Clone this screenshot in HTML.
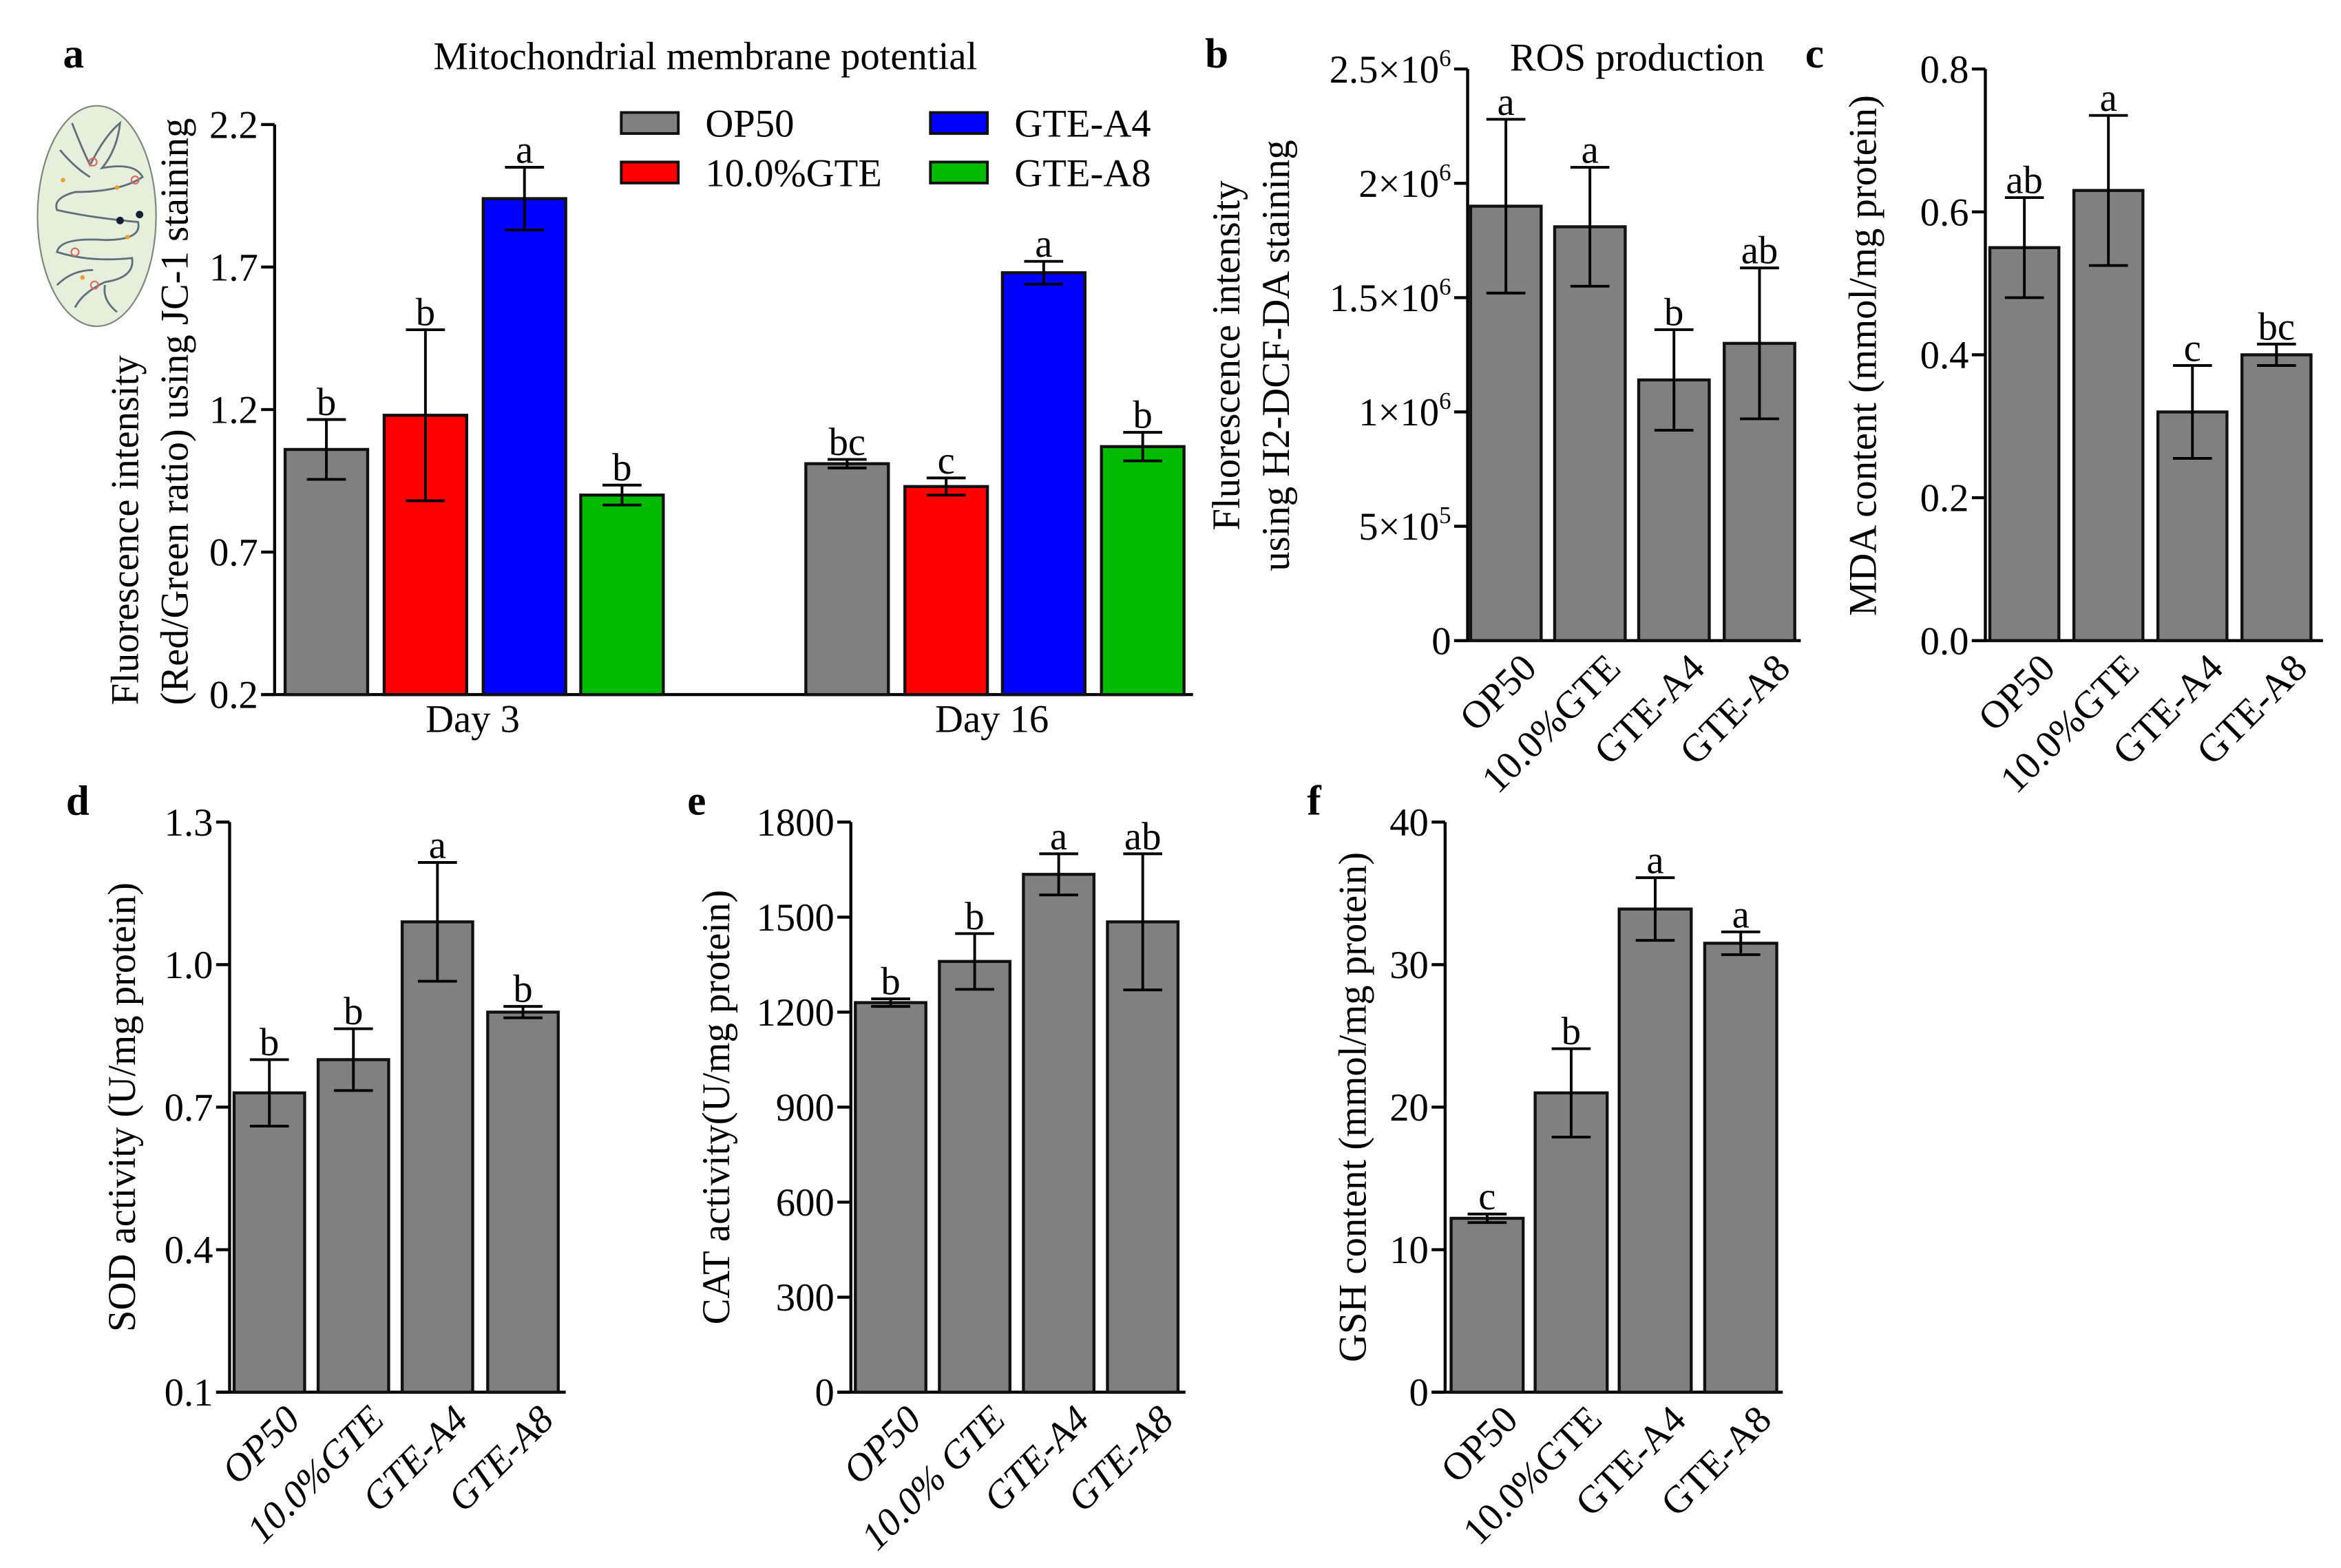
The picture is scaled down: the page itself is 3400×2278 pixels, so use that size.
<!DOCTYPE html>
<html><head><meta charset="utf-8">
<style>
html,body{margin:0;padding:0;background:#fff;}
svg{display:block;font-family:"Liberation Serif","DejaVu Serif",serif;}
</style></head>
<body>
<svg id="fig" width="3400" height="2278" viewBox="0 0 1560 1045.2" preserveAspectRatio="none" xmlns="http://www.w3.org/2000/svg">
<g id="charts"></g>
<g>
<ellipse cx="64.5" cy="144" rx="39.5" ry="73.5" fill="#e6eedc" stroke="#7a8a7a" stroke-width="1"/>
<path d="M48,82 Q55,100 60,110 Q70,90 80,82 Q78,100 68,112 Q90,108 95,118 Q80,128 50,128 Q35,132 38,140 Q60,145 92,148 Q95,160 70,160 Q40,158 38,168 Q60,175 88,172 Q90,185 70,188 Q55,195 50,205 M70,190 Q68,200 78,208" fill="none" stroke="#60707a" stroke-width="1.3"/>
<path d="M40,100 Q50,112 60,118 M38,190 Q48,180 62,180" fill="none" stroke="#60707a" stroke-width="1.3"/>
<circle cx="62" cy="108" r="2.5" fill="none" stroke="#d66"/><circle cx="90" cy="120" r="2.5" fill="none" stroke="#d66"/>
<circle cx="50" cy="168" r="2.5" fill="none" stroke="#d66"/><circle cx="63" cy="190" r="2.5" fill="none" stroke="#d66"/>
<circle cx="78" cy="125" r="1.5" fill="#e9a030"/><circle cx="42" cy="120" r="1.5" fill="#e9a030"/><circle cx="85" cy="158" r="1.5" fill="#e9a030"/><circle cx="55" cy="185" r="1.5" fill="#e9a030"/>
<circle cx="80" cy="147" r="2.5" fill="#123"/><circle cx="93" cy="143" r="2.5" fill="#123"/>
</g>
</svg>
<script>
// ---------- Panel a data ----------
const aCategories = ["Day 3", "Day 16"];
const aSeriesNames = ["OP50", "10.0%GTE", "GTE-A4", "GTE-A8"];
const aDay3Values = [1.06, 1.18, 1.94, 0.90];
const aDay3Err = [0.105, 0.30, 0.11, 0.035];
const aDay16Values = [1.01, 0.93, 1.68, 1.07];
const aDay16Err = [0.015, 0.03, 0.04, 0.05];
const aDay3Letters = ["b", "b", "a", "b"];
const aDay16Letters = ["bc", "c", "a", "b"];
const aTicks = [0.2, 0.7, 1.2, 1.7, 2.2];
// ---------- Panel b ----------
const groupCats = ["OP50", "10.0%GTE", "GTE-A4", "GTE-A8"];
const bValues = [1.90e6, 1.81e6, 1.14e6, 1.30e6];
const bErr = [0.38e6, 0.26e6, 0.22e6, 0.33e6];
const bLetters = ["a", "a", "b", "ab"];
const bTicks = [0, 5e5, 1e6, 1.5e6, 2e6, 2.5e6];
const bTickLabels = [["0",""], ["5×10","5"], ["1×10","6"], ["1.5×10","6"], ["2×10","6"], ["2.5×10","6"]];
// ---------- Panel c ----------
const cValues = [0.55, 0.63, 0.32, 0.40];
const cErr = [0.07, 0.105, 0.065, 0.015];
const cLetters = ["ab", "a", "c", "bc"];
const cTicks = [0.0, 0.2, 0.4, 0.6, 0.8];
const cTickLabels = ["0.0", "0.2", "0.4", "0.6", "0.8"];
// ---------- Panel d ----------
const dValues = [0.73, 0.80, 1.09, 0.90];
const dErr = [0.07, 0.065, 0.125, 0.012];
const dLetters = ["b", "b", "a", "b"];
const dTicks = [0.1, 0.4, 0.7, 1.0, 1.3];
const dTickLabels = ["0.1", "0.4", "0.7", "1.0", "1.3"];
// ---------- Panel e ----------
const eCats = ["OP50", "10.0% GTE", "GTE-A4", "GTE-A8"];
const eValues = [1230, 1360, 1635, 1485];
const eErr = [12, 88, 65, 215];
const eLetters = ["b", "b", "a", "ab"];
const eTicks = [0, 300, 600, 900, 1200, 1500, 1800];
// ---------- Panel f ----------
const fValues = [12.2, 21.0, 33.9, 31.5];
const fErr = [0.3, 3.1, 2.2, 0.8];
const fLetters = ["c", "b", "a", "a"];
const fTicks = [0, 10, 20, 30, 40];

const NS = "http://www.w3.org/2000/svg";
const root = document.getElementById("charts");
const FS = 26;
function mk(tag, attrs, parent, txt) {
  const e = document.createElementNS(NS, tag);
  for (const k in attrs) e.setAttribute(k, attrs[k]);
  if (txt !== undefined) e.textContent = txt;
  (parent || root).appendChild(e);
  return e;
}
function scale(d0, d1, r0, r1) { return v => r0 + (v - d0) * (r1 - r0) / (d1 - d0); }

function panel(o) {
  const g = mk("g", {});
  
  
  const y = scale(o.dmin, o.dmax, o.y0, o.y1);
  const yax = mk("line", {x1:o.ax, y1:o.y1, x2:o.ax, y2:o.y0, stroke:"#000", "stroke-width":2}, g);
  
  
  const xax = mk("line", {x1:o.ax - 9, y1:o.y0, x2:o.axEnd, y2:o.y0, stroke:"#000", "stroke-width":2}, g);
  
  
  o.ticks.forEach((t, i) => {
    const yy = y(t);
    mk("line", {x1:o.ax - 9, y1:yy, x2:o.ax, y2:yy, stroke:"#000", "stroke-width":2}, g);
    const lab = o.tickLabels ? o.tickLabels[i] : String(t);
    const tx = mk("text", {x:o.ax - 11, y:yy + 9, "text-anchor":"end", "font-size":FS}, g);
    
    
    if (Array.isArray(lab)) {
      tx.textContent = lab[0];
      if (lab[1]) mk("tspan", {dy:-11, "font-size":16}, tx, lab[1]);
    } else tx.textContent = lab;
  });
  o.bars.forEach((b, i) => {
    const top = y(b.v);
    const r = mk("rect", {x:b.x, y:top, width:b.w, height:o.y0 - top, fill:b.fill || "#808080", stroke:"#111", "stroke-width":2}, g);
    
    
    const cx = b.x + b.w / 2, hi = y(b.v + b.e), lo = y(b.v - b.e);
    const eb = mk("path", {d:`M${cx},${hi}V${lo}M${cx-13},${hi}H${cx+13}M${cx-13},${lo}H${cx+13}`, stroke:"#000", "stroke-width":1.8, fill:"none"}, g);
    
    
    const lt = mk("text", {x:cx, y:hi - 3, "text-anchor":"middle", "font-size":FS}, g, b.letter);
    
    
    if (o.rotLabels) {
      const lx = cx + 8, ly = o.y0 + 6;
      const xl = mk("text", {x:lx, y:ly, "text-anchor":"end", "font-size":FS, "font-style":o.italic ? "italic" : "normal", transform:`rotate(-45 ${lx} ${ly})`, dy:"0.75em"}, g, b.label);
      
      
    }
  });
  o.ytitle.forEach((t, i) => {
    const tx = o.ytx[i];
    const anchor = o.ytAnchor || "middle";
    const yt = mk("text", {x:tx, y:o.yty, "text-anchor":anchor, "font-size":FS, transform:`rotate(-90 ${tx} ${o.yty})`}, g, t);
    
    
  });
  return {g, y};
}

const aColors = ["#808080", "#ff0000", "#0000ff", "#00bb00"];
const aX3 = [190, 256, 322, 387], aX16 = [537, 603, 668, 734];
const aBars = [];
aDay3Values.forEach((v, i) => aBars.push({x:aX3[i], w:55, v, e:aDay3Err[i], letter:aDay3Letters[i], fill:aColors[i], label:"day3-" + aSeriesNames[i]}));
aDay16Values.forEach((v, i) => aBars.push({x:aX16[i], w:55, v, e:aDay16Err[i], letter:aDay16Letters[i], fill:aColors[i], label:"day16-" + aSeriesNames[i]}));
const pa = panel({name:"panel-a-chart", ax:183, axEnd:795, y0:463, y1:83, dmin:0.2, dmax:2.2, ticks:aTicks,
  tickLabels:aTicks.map(t => t.toFixed(1)), bars:aBars,
  ytitle:["Fluorescence intensity", "(Red/Green ratio) using JC-1 staining"], ytx:[92, 125], yty:470, ytAnchor:"start"});
[[315, aCategories[0]], [661, aCategories[1]]].forEach(([x, t]) => {
  const c = mk("text", {x, y:488, "text-anchor":"middle", "font-size":FS}, pa.g, t);
  
  
});
const legPos = [[414, 75], [414, 108], [620, 75], [620, 108]];
[0, 1, 2, 3].forEach(i => {
  const [lx, ly] = legPos[i];
  const lg = mk("g", {});
  
  
  mk("rect", {x:lx, y:ly, width:38, height:14, fill:aColors[i], stroke:"#111", "stroke-width":1.8}, lg);
  mk("text", {x:lx + 56, y:ly + 16, "font-size":FS}, lg, aSeriesNames[i]);
});

function simple(name, ax, axEnd, y0, y1, dmin, dmax, ticks, tickLabels, xs, w, vals, errs, letters, cats, ytitle, ytx, yty, italic) {
  return panel({name, ax, axEnd, y0, y1, dmin, dmax, ticks, tickLabels, rotLabels:true, italic,
    bars:vals.map((v, i) => ({x:xs[i], w, v, e:errs[i], letter:letters[i], label:cats[i]})),
    ytitle, ytx, yty});
}
simple("panel-b-chart", 978, 1200, 427, 46, 0, 2.5e6, bTicks, bTickLabels, [980, 1036, 1092, 1149], 47,
  bValues, bErr, bLetters, groupCats, ["Fluorescence intensity", "using H2-DCF-DA staining"], [826, 859], 237, false);
simple("panel-c-chart", 1323, 1548, 427, 46, 0, 0.8, cTicks, cTickLabels, [1326, 1382, 1438, 1494], 46,
  cValues, cErr, cLetters, groupCats, ["MDA content (mmol/mg protein)"], [1250], 237, false);
simple("panel-d-chart", 153, 377, 928, 548, 0.1, 1.3, dTicks, dTickLabels, [156, 212, 268, 325], 47,
  dValues, dErr, dLetters, groupCats, ["SOD activity (U/mg protein)"], [90], 738, true);
simple("panel-e-chart", 567, 790, 928, 548, 0, 1800, eTicks, null, [570, 626, 682, 738], 47,
  eValues, eErr, eLetters, eCats, ["CAT activity(U/mg protein)"], [486], 738, true);
simple("panel-f-chart", 963, 1188, 928, 548, 0, 40, fTicks, null, [967, 1023, 1079, 1136], 48,
  fValues, fErr, fLetters, groupCats, ["GSH content (mmol/mg protein)"], [910], 738, false);

[["Mitochondrial membrane potential", 470, 46], ["ROS production", 1091, 47]].forEach(([t, x, yy]) => {
  const e = mk("text", {x, y:yy, "text-anchor":"middle", "font-size":FS}, root, t);
  
  
});
[["a", 42, 45], ["b", 803, 45], ["c", 1203, 45], ["d", 44, 543], ["e", 458, 543], ["f", 871, 543]].forEach(([t, x, yy]) => {
  const e = mk("text", {x, y:yy, "font-size":28, "font-weight":"bold"}, root, t);
  
  
});
</script>
</body></html>
